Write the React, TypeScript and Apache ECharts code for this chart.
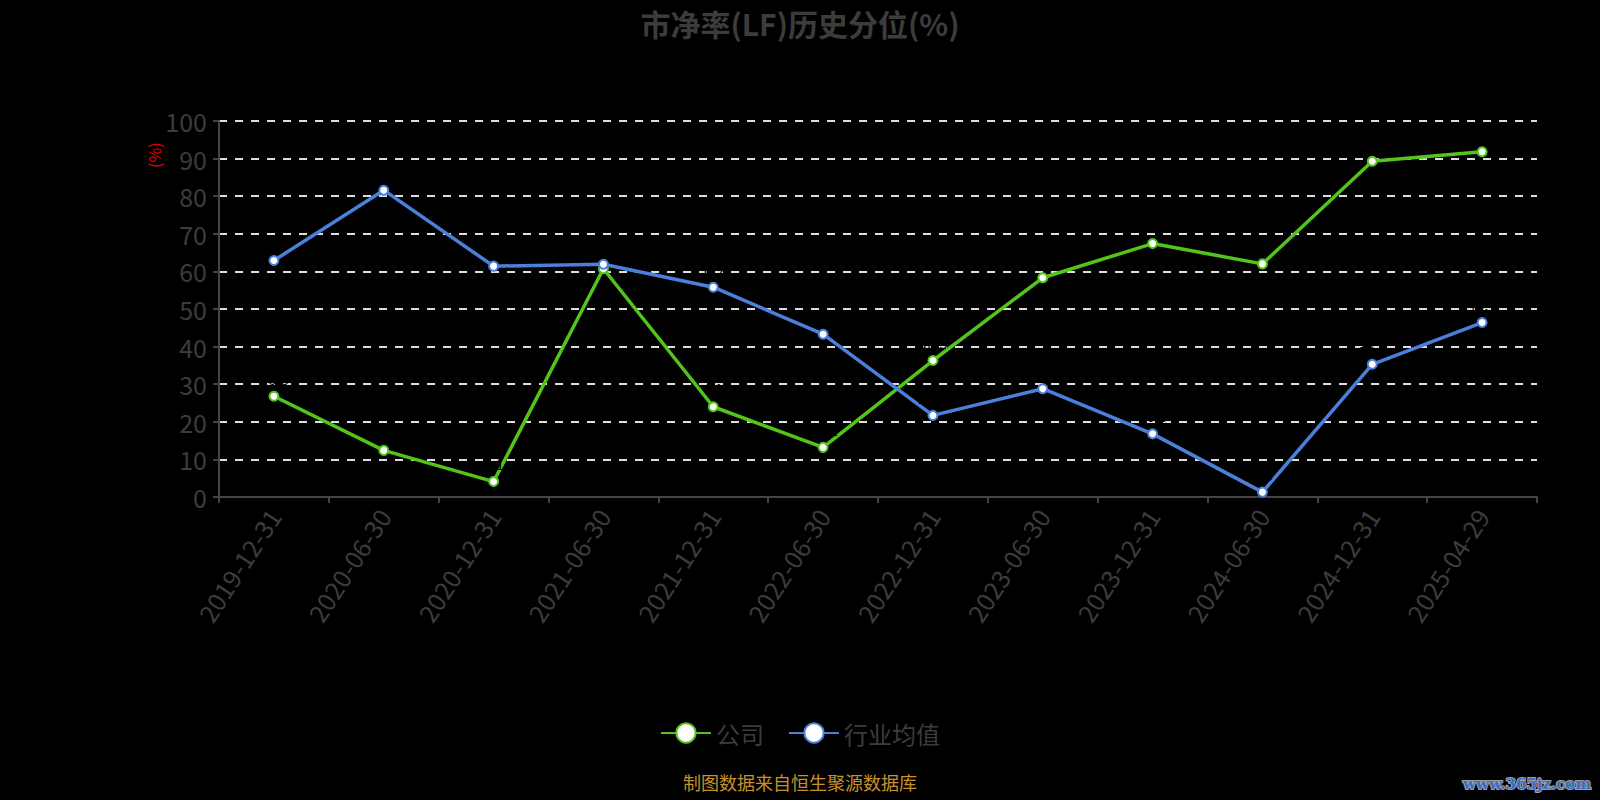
import React, { useEffect, useRef } from "react";
import * as echarts from "echarts";

const categories = [
  "2019-12-31", "2020-06-30", "2020-12-31", "2021-06-30", "2021-12-31", "2022-06-30",
  "2022-12-31", "2023-06-30", "2023-12-31", "2024-06-30", "2024-12-31", "2025-04-29",
];
const companyValues = [26.8, 12.4, 4.1, 60.7, 24.0, 13.2, 36.3, 58.3, 67.4, 62.0, 89.3, 91.8];
const industryValues = [62.9, 81.6, 61.4, 61.9, 55.8, 43.3, 21.7, 28.8, 16.8, 1.3, 35.3, 46.4];
const seriesNames = ["公司", "行业均值"];
const titleText = "市净率(LF)历史分位(%)";
const footerText = "制图数据来自恒生聚源数据库";
const yAxisName = "(%)";
const watermark = "www.365jz.com";

const FONT = "'Noto Sans CJK SC', 'Noto Sans', sans-serif";

export default function App() {
  const ref = useRef<HTMLDivElement>(null);
  useEffect(() => {
    document.body.style.margin = "0";
    document.body.style.background = "#000";
    const chart = echarts.init(ref.current!, null, { renderer: "svg" });
    const mkSeries = (name: string, data: number[], color: string) => ({
      name,
      type: "line",
      data,
      symbol: "circle",
      symbolSize: 9,
      showAllSymbol: true,
      lineStyle: { color, width: 3.5 },
      itemStyle: { color: "#fff", borderColor: color, borderWidth: 2 },
      label: { show: true, position: "top", color: "#000", fontSize: 15, fontFamily: FONT },
      emphasis: { disabled: true },
    });
    chart.setOption({
      animation: false,
      backgroundColor: "#000",
      title: [
        {
          text: titleText,
          left: "center",
          top: 3,
          textStyle: { color: "#3c3c3c", fontSize: 30, fontWeight: "bold", fontFamily: FONT },
        },
        {
          text: footerText,
          left: "center",
          top: 768,
          textStyle: { color: "#c8922a", fontSize: 18, fontWeight: "normal", fontFamily: FONT },
        },
      ],
      legend: {
        data: seriesNames,
        bottom: 50,
        left: "center",
        itemWidth: 50,
        itemHeight: 24,
        itemGap: 24,
        textStyle: { color: "#3c3c3c", fontSize: 24, fontFamily: FONT },
      },
      grid: { left: 219, right: 63, top: 121, bottom: 303, containLabel: false },
      xAxis: {
        type: "category",
        data: categories,
        boundaryGap: true,
        axisLine: { show: true, lineStyle: { color: "#444", width: 2 } },
        axisTick: { show: true, length: 6, lineStyle: { color: "#444", width: 2 } },
        axisLabel: { color: "#3c3c3c", fontSize: 25, rotate: 57, margin: 14, fontFamily: FONT, interval: 0 },
        splitLine: { show: false },
      },
      yAxis: {
        type: "value",
        min: 0,
        max: 100,
        interval: 10,
        axisLine: { show: true, lineStyle: { color: "#444", width: 2 } },
        axisTick: { show: true, length: 6, lineStyle: { color: "#444", width: 2 } },
        axisLabel: { color: "#3c3c3c", fontSize: 25, margin: 12, fontFamily: FONT },
        splitLine: { show: true, lineStyle: { color: "#dddddd", width: 2, type: [8, 8] } },
      },
      graphic: [
        {
          type: "text",
          x: 146,
          y: 168,
          rotation: Math.PI / 2,
          style: { text: yAxisName, fill: "#e00000", fontSize: 16, fontFamily: FONT },
        },
        {
          type: "text",
          right: 8,
          bottom: 8,
          style: {
            text: watermark,
            fill: "#3a6cc8",
            stroke: "#a0a0a0",
            lineWidth: 2,
            fontSize: 15,
            fontWeight: "bold",
            fontFamily: "'DejaVu Serif', serif",
          },
        },
      ],
      series: [
        mkSeries(seriesNames[0], companyValues, "#52c41a"),
        mkSeries(seriesNames[1], industryValues, "#4a80dc"),
      ],
    });
    return () => chart.dispose();
  }, []);
  return <div ref={ref} style={{ width: 1600, height: 800 }} />;
}
